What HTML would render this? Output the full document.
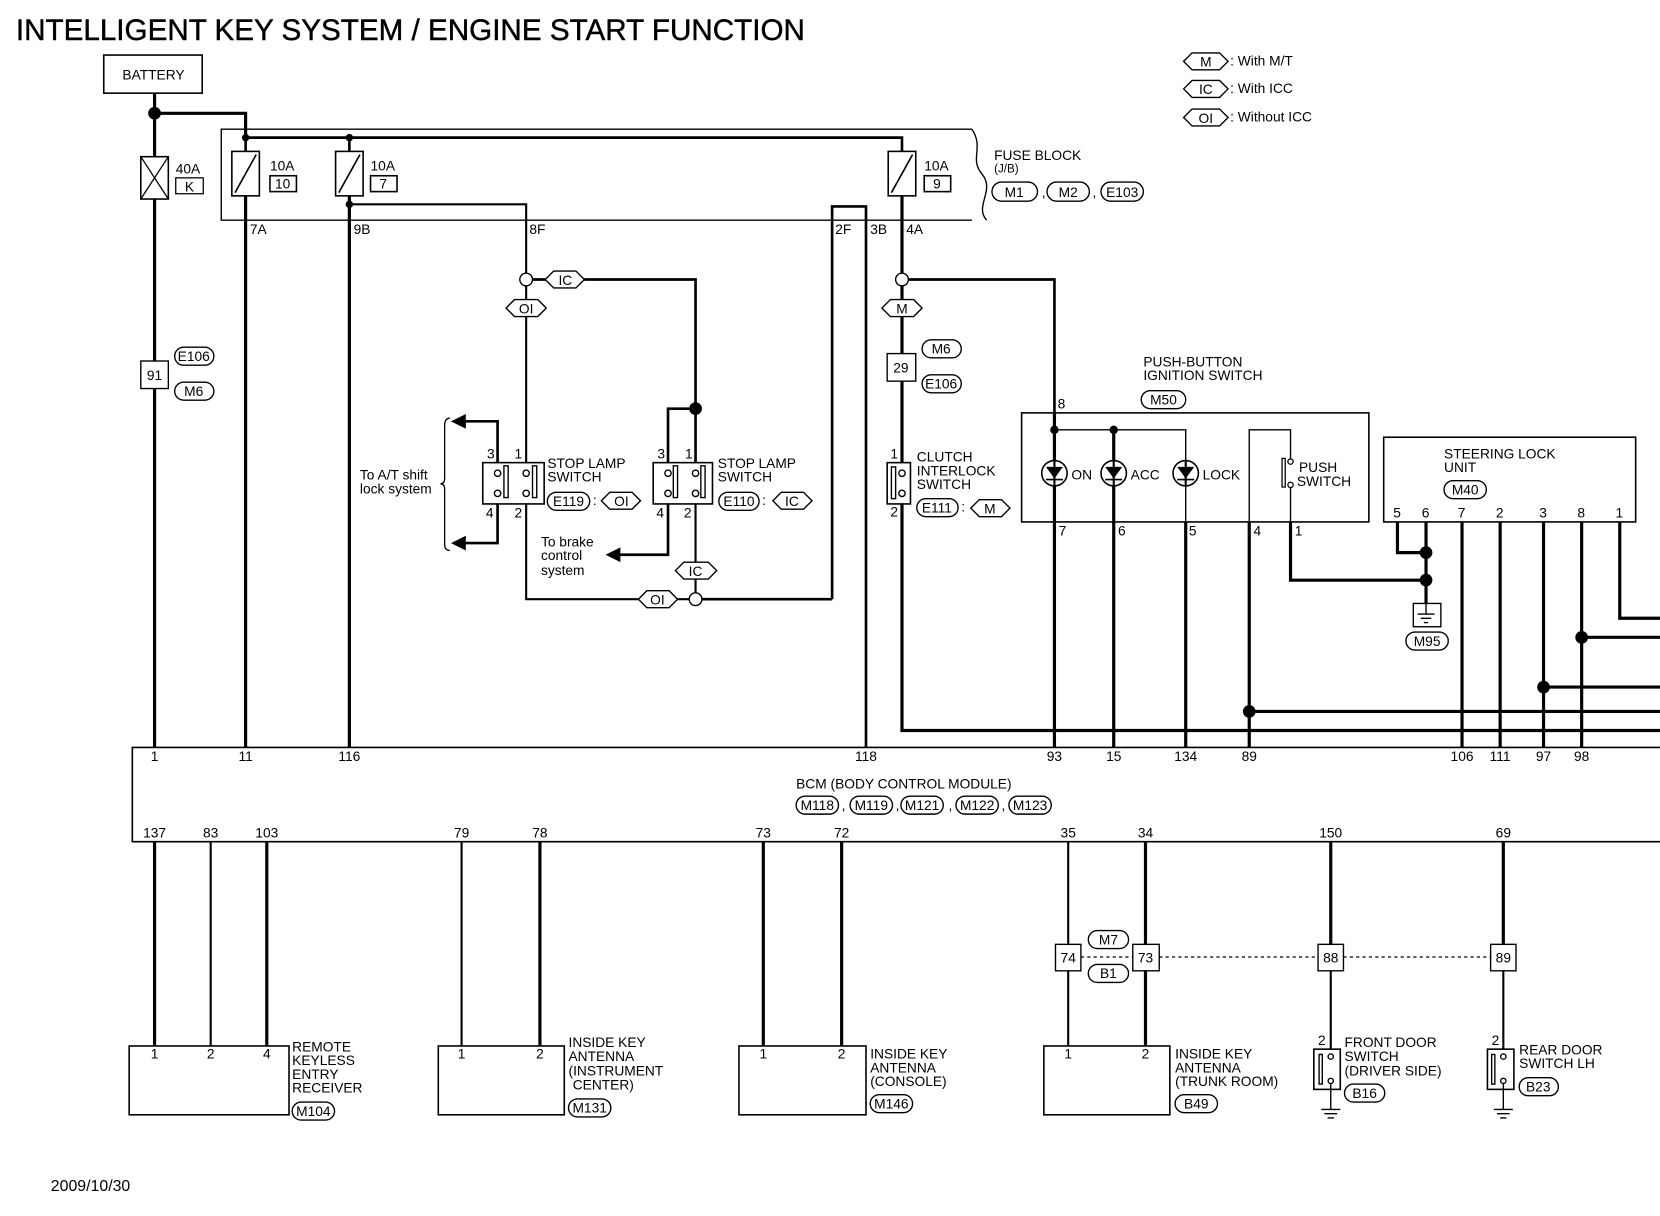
<!DOCTYPE html>
<html><head><meta charset="utf-8"><style>
html,body{margin:0;padding:0;background:#fff;}
svg{display:block;}
text{font-family:"Liberation Sans",sans-serif;fill:#000;}
.s{font-size:13px;}
.k{stroke:#000;fill:none;}
.w{stroke:#000;fill:#fff;}
</style></head><body>
<svg width="1660" height="1216" viewBox="0 0 1568 1148.6" preserveAspectRatio="none" xmlns="http://www.w3.org/2000/svg">
<rect x="0" y="0" width="1568" height="1149" fill="#fff"/>
<text x="15" y="38" style="font-size:28px;stroke:#000;stroke-width:0.4">INTELLIGENT KEY SYSTEM / ENGINE START FUNCTION</text>

<!-- legend -->
<g class="k" stroke-width="1.3">
<polygon points="1118,58 1126,50 1152,50 1160,58 1152,66 1126,66"/>
<polygon points="1118,84 1126,76 1152,76 1160,84 1152,92 1126,92"/>
<polygon points="1118,111 1126,103 1152,103 1160,111 1152,119 1126,119"/>
</g>
<text x="1139" y="63" class="s" text-anchor="middle">M</text>
<text x="1139" y="89" class="s" text-anchor="middle">IC</text>
<text x="1139" y="116" class="s" text-anchor="middle">OI</text>
<text x="1162" y="62" class="s">: With M/T</text>
<text x="1162" y="88" class="s">: With ICC</text>
<text x="1162" y="115" class="s">: Without ICC</text>

<!-- battery -->
<rect x="98" y="52" width="93" height="36" class="k" stroke-width="1.5"/>
<text x="145" y="75" class="s" text-anchor="middle">BATTERY</text>

<g class="k" stroke-width="3">
<path d="M146,88 V148 M146,188 V341 M146,367 V706"/>
<path d="M146,107 H232 V130"/>
<path d="M232,185 V706"/>
<path d="M330,185 V706"/>
</g>
<circle cx="146" cy="107" r="6"/>
<!-- 40A fuse -->
<rect x="133" y="148" width="26" height="40" class="k" stroke-width="1.5"/>
<path d="M133,148 L159,188 M159,148 L133,188" class="k" stroke-width="1.2"/>
<text x="166" y="164" class="s">40A</text>
<rect x="166" y="168" width="26" height="15" class="k" stroke-width="1.2"/>
<text x="179" y="181" class="s" text-anchor="middle">K</text>

<!-- fuse block -->
<path d="M918,122 H209 V208 H918" class="k" stroke-width="1.3"/>
<path d="M918,122 C930,140 915,150 928,165 C940,180 920,195 932,208" class="k" stroke-width="1.3"/>
<path d="M232,130 H852 V143" class="k" stroke-width="2.5"/>
<circle cx="232" cy="130" r="3.5"/><circle cx="330" cy="130" r="3.5"/>
<path d="M232,130 V143 M330,130 V143" class="k" stroke-width="2.5"/>
<g class="k" stroke-width="1.5">
<rect x="219" y="143" width="26" height="42"/><path d="M222,182 L242,146"/>
<rect x="317" y="143" width="26" height="42"/><path d="M320,182 L340,146"/>
<rect x="839" y="143" width="26" height="42"/><path d="M842,182 L862,146"/>
<rect x="255" y="166" width="25" height="15"/>
<rect x="350" y="166" width="25" height="15"/>
<rect x="873" y="166" width="25" height="15"/>
</g>
<text x="255" y="161" class="s">10A</text><text x="267" y="178" class="s" text-anchor="middle">10</text>
<text x="350" y="161" class="s">10A</text><text x="362" y="178" class="s" text-anchor="middle">7</text>
<text x="873" y="161" class="s">10A</text><text x="885" y="178" class="s" text-anchor="middle">9</text>
<text x="939" y="151" class="s">FUSE BLOCK</text>
<text x="939" y="163" style="font-size:11px">(J/B)</text>
<g class="k" stroke-width="1.3">
<rect x="937" y="172" width="43" height="18" rx="9"/>
<rect x="989" y="172" width="40" height="18" rx="9"/>
<rect x="1040" y="172" width="40" height="18" rx="9"/>
</g>
<text x="958" y="186" class="s" text-anchor="middle">M1</text><text x="984" y="186" class="s">,</text>
<text x="1009" y="186" class="s" text-anchor="middle">M2</text><text x="1032" y="186" class="s">,</text>
<text x="1060" y="186" class="s" text-anchor="middle">E103</text>
<text x="236" y="221" class="s">7A</text><text x="334" y="221" class="s">9B</text>
<text x="500" y="221" class="s">8F</text><text x="789" y="221" class="s">2F</text>
<text x="822" y="221" class="s">3B</text><text x="856" y="221" class="s">4A</text>

<!-- 9B branch -->
<circle cx="330" cy="193" r="3.5"/>
<path d="M330,193 H497 V258" class="k" stroke-width="2"/>
<path d="M786,566 V195 H818 V706" class="k" stroke-width="2.5"/>
<!-- IC/OI -->
<circle cx="497" cy="264" r="6" class="w" stroke-width="1.3"/>
<path d="M503,264 H515 M552,264 H657 V437" class="k" stroke-width="2.5"/>
<polygon points="515,264 523,256 544,256 552,264 544,272 523,272" class="k" stroke-width="1.3"/>
<text x="534" y="269" class="s" text-anchor="middle">IC</text>
<path d="M497,270 V283 M497,299 V437" class="k" stroke-width="2"/>
<polygon points="478,291 486,283 508,283 516,291 508,299 486,299" class="k" stroke-width="1.3"/>
<text x="497" y="296" class="s" text-anchor="middle">OI</text>
<circle cx="657" cy="386" r="6"/>
<path d="M657,386 H631 V437" class="k" stroke-width="2.5"/>
<!-- E119 switch -->
<rect x="456" y="437" width="58" height="39" class="k" stroke-width="1.5"/>
<g class="k" stroke-width="1.3">
<circle cx="470" cy="447" r="3"/><circle cx="470" cy="466" r="3"/>
<circle cx="497" cy="447" r="3"/><circle cx="497" cy="466" r="3"/>
<rect x="476" y="440" width="4" height="30"/><rect x="503" y="440" width="4" height="30"/>
</g>
<path d="M497,476 V566 H603 M640,566 H651" class="k" stroke-width="2"/>
<path d="M470,437 V398 H438 M470,476 V513 H438" class="k" stroke-width="2.5"/>
<polygon points="426,398 440,391 440,405"/><polygon points="426,513 440,506 440,520"/>
<path d="M425,395 Q420,395 420,402 V452 Q420,457 416,457 Q420,457 420,462 V514 Q420,520 425,520" class="k" stroke-width="1.2"/>
<text x="340" y="453" class="s">To A/T shift</text>
<text x="340" y="466" class="s">lock system</text>
<text x="460" y="433" class="s">3</text><text x="486" y="433" class="s">1</text>
<text x="459" y="489" class="s">4</text><text x="486" y="489" class="s">2</text>
<text x="517" y="442" class="s">STOP LAMP</text><text x="517" y="455" class="s">SWITCH</text>
<rect x="517" y="465" width="40" height="17" rx="8.5" class="k" stroke-width="1.3"/>
<text x="537" y="478" class="s" text-anchor="middle">E119</text><text x="560" y="477" class="s">:</text>
<polygon points="568,473 576,465 597,465 605,473 597,481 576,481" class="k" stroke-width="1.3"/>
<text x="587" y="478" class="s" text-anchor="middle">OI</text>
<polygon points="603,566 611,558 632,558 640,566 632,574 611,574" class="k" stroke-width="1.3"/>
<text x="621" y="571" class="s" text-anchor="middle">OI</text>
<circle cx="657" cy="566" r="6" class="w" stroke-width="1.3"/>
<path d="M663,566 H786" class="k" stroke-width="2.5"/>
<!-- E110 -->
<rect x="617" y="437" width="56" height="39" class="k" stroke-width="1.5"/>
<g class="k" stroke-width="1.3">
<circle cx="631" cy="447" r="3"/><circle cx="631" cy="466" r="3"/>
<circle cx="657" cy="447" r="3"/><circle cx="657" cy="466" r="3"/>
<rect x="636" y="440" width="4" height="30"/><rect x="662" y="440" width="4" height="30"/>
</g>
<path d="M631,476 V524 H584" class="k" stroke-width="2.5"/>
<polygon points="572,524 586,517 586,531"/>
<path d="M657,476 V531 M657,547 V560" class="k" stroke-width="2"/>
<polygon points="638,539 646,531 669,531 677,539 669,547 646,547" class="k" stroke-width="1.3"/>
<text x="657" y="544" class="s" text-anchor="middle">IC</text>
<text x="621" y="433" class="s">3</text><text x="647" y="433" class="s">1</text>
<text x="620" y="489" class="s">4</text><text x="646" y="489" class="s">2</text>
<text x="511" y="516" class="s">To brake</text><text x="511" y="529" class="s">control</text><text x="511" y="543" class="s">system</text>
<text x="678" y="442" class="s">STOP LAMP</text><text x="678" y="455" class="s">SWITCH</text>
<rect x="679" y="465" width="38" height="17" rx="8.5" class="k" stroke-width="1.3"/>
<text x="698" y="478" class="s" text-anchor="middle">E110</text><text x="720" y="477" class="s">:</text>
<polygon points="730,473 738,465 759,465 767,473 759,481 738,481" class="k" stroke-width="1.3"/>
<text x="748" y="478" class="s" text-anchor="middle">IC</text>

<!-- left connector 91 -->
<rect x="133" y="341" width="26" height="26" class="w" stroke-width="1.3"/>
<text x="146" y="359" class="s" text-anchor="middle">91</text>
<rect x="165" y="328" width="37" height="17" rx="8.5" class="k" stroke-width="1.3"/>
<text x="183" y="341" class="s" text-anchor="middle">E106</text>
<rect x="165" y="361" width="37" height="17" rx="8.5" class="k" stroke-width="1.3"/>
<text x="183" y="374" class="s" text-anchor="middle">M6</text>

<!-- 4A line -->
<path d="M852,185 V258 M852,270 V283 M852,299 V334 M852,360 V437 M852,476 V690 H1568" class="k" stroke-width="3"/>
<circle cx="852" cy="264" r="6" class="w" stroke-width="1.3"/>
<path d="M858,264 H996 V390" class="k" stroke-width="2.5"/>
<polygon points="833,291 841,283 863,283 871,291 863,299 841,299" class="k" stroke-width="1.3"/>
<text x="852" y="296" class="s" text-anchor="middle">M</text>
<rect x="838" y="334" width="27" height="26" class="k" stroke-width="1.3"/>
<text x="851" y="352" class="s" text-anchor="middle">29</text>
<rect x="871" y="321" width="37" height="17" rx="8.5" class="k" stroke-width="1.3"/>
<text x="889" y="334" class="s" text-anchor="middle">M6</text>
<rect x="871" y="354" width="37" height="17" rx="8.5" class="k" stroke-width="1.3"/>
<text x="889" y="367" class="s" text-anchor="middle">E106</text>
<!-- clutch -->
<rect x="838" y="437" width="22" height="39" class="k" stroke-width="1.5"/>
<g class="k" stroke-width="1.3"><circle cx="852" cy="447" r="3"/><circle cx="852" cy="466" r="3"/><rect x="842" y="441" width="4" height="30"/></g>
<text x="841" y="433" class="s">1</text><text x="841" y="488" class="s">2</text>
<text x="866" y="436" class="s">CLUTCH</text><text x="866" y="449" class="s">INTERLOCK</text><text x="866" y="462" class="s">SWITCH</text>
<rect x="866" y="471" width="39" height="17" rx="8.5" class="k" stroke-width="1.3"/>
<text x="885" y="484" class="s" text-anchor="middle">E111</text><text x="908" y="483" class="s">:</text>
<polygon points="917,480 925,472 946,472 954,480 946,488 925,488" class="k" stroke-width="1.3"/>
<text x="935" y="485" class="s" text-anchor="middle">M</text>

<!-- push-button ignition -->
<text x="1080" y="346" class="s">PUSH-BUTTON</text><text x="1080" y="359" class="s">IGNITION SWITCH</text>
<rect x="1078" y="369" width="42" height="17" rx="8.5" class="k" stroke-width="1.3"/>
<text x="1099" y="382" class="s" text-anchor="middle">M50</text>
<rect x="965" y="390" width="328" height="103" class="k" stroke-width="1.5"/>
<text x="999" y="386" class="s">8</text>
<path d="M996,390 V706 M1052,406 V706" class="k" stroke-width="3"/>
<path d="M996,406 H1120 V493" class="k" stroke-width="1.3"/>
<path d="M1120,493 V706" class="k" stroke-width="3"/>
<circle cx="996" cy="406" r="4"/><circle cx="1052" cy="406" r="4"/>
<g class="w" stroke-width="1.5">
<circle cx="996" cy="447" r="12"/><circle cx="1052" cy="447" r="12"/><circle cx="1120" cy="447" r="12"/>
</g>
<g>
<polygon points="988,441 1004,441 996,452"/><path d="M988,453 H1004" class="k" stroke-width="1.5"/>
<polygon points="1044,441 1060,441 1052,452"/><path d="M1044,453 H1060" class="k" stroke-width="1.5"/>
<polygon points="1112,441 1128,441 1120,452"/><path d="M1112,453 H1128" class="k" stroke-width="1.5"/>
</g>
<path d="M996,435 V459 M1052,435 V459 M1120,435 V459" class="k" stroke-width="2"/>
<text x="1012" y="453" class="s">ON</text><text x="1068" y="453" class="s">ACC</text><text x="1136" y="453" class="s">LOCK</text>
<path d="M1180,493 V406 H1219 V433 M1219,461 V493" class="k" stroke-width="1.3"/>
<circle cx="1219" cy="436" r="2.5" class="k" stroke-width="1.2"/><circle cx="1219" cy="458" r="2.5" class="k" stroke-width="1.2"/>
<rect x="1211" y="433" width="3" height="27" class="k" stroke-width="1.2"/>
<text x="1227" y="446" class="s">PUSH</text><text x="1225" y="459" class="s">SWITCH</text>
<text x="1000" y="506" class="s">7</text><text x="1056" y="506" class="s">6</text><text x="1123" y="506" class="s">5</text>
<text x="1184" y="506" class="s">4</text><text x="1223" y="506" class="s">1</text>
<path d="M1180,493 V706 M1219,493 V548 H1347" class="k" stroke-width="3"/>
<circle cx="1180" cy="672" r="6"/>
<path d="M1180,672 H1568" class="k" stroke-width="3"/>

<!-- steering lock -->
<rect x="1307" y="413" width="238" height="80" class="k" stroke-width="1.5"/>
<text x="1364" y="433" class="s">STEERING LOCK</text><text x="1364" y="446" class="s">UNIT</text>
<rect x="1364" y="454" width="40" height="17" rx="8.5" class="k" stroke-width="1.3"/>
<text x="1384" y="467" class="s" text-anchor="middle">M40</text>
<text x="1316" y="489" class="s">5</text><text x="1343" y="489" class="s">6</text><text x="1377" y="489" class="s">7</text>
<text x="1413" y="489" class="s">2</text><text x="1454" y="489" class="s">3</text><text x="1490" y="489" class="s">8</text><text x="1526" y="489" class="s">1</text>
<g class="k" stroke-width="3">
<path d="M1320,493 V522 H1347 M1347,493 V570"/>
<path d="M1381,493 V706 M1417,493 V706 M1458,493 V706 M1494,493 V706"/>
<path d="M1530,493 V584 H1568 M1494,602 H1568 M1458,649 H1568"/>
</g>
<circle cx="1347" cy="522" r="6"/><circle cx="1347" cy="548" r="6"/>
<circle cx="1494" cy="602" r="6"/><circle cx="1458" cy="649" r="6"/>
<rect x="1335" y="570" width="26" height="22" class="k" stroke-width="1.3"/>
<path d="M1347,570 V580 M1339,580 H1355 M1342,584 H1352 M1345,588 H1349" class="k" stroke-width="1.3"/>
<rect x="1328" y="597" width="40" height="17" rx="8.5" class="k" stroke-width="1.3"/>
<text x="1348" y="610" class="s" text-anchor="middle">M95</text>

<!-- BCM -->
<path d="M1568,706 H125 V795 H1568" class="k" stroke-width="1.5"/>
<g class="s">
<text x="146" y="719" text-anchor="middle">1</text><text x="232" y="719" text-anchor="middle">11</text>
<text x="330" y="719" text-anchor="middle">116</text><text x="818" y="719" text-anchor="middle">118</text>
<text x="996" y="719" text-anchor="middle">93</text><text x="1052" y="719" text-anchor="middle">15</text>
<text x="1120" y="719" text-anchor="middle">134</text><text x="1180" y="719" text-anchor="middle">89</text>
<text x="1381" y="719" text-anchor="middle">106</text><text x="1417" y="719" text-anchor="middle">111</text>
<text x="1458" y="719" text-anchor="middle">97</text><text x="1494" y="719" text-anchor="middle">98</text>
<text x="146" y="791" text-anchor="middle">137</text><text x="199" y="791" text-anchor="middle">83</text>
<text x="252" y="791" text-anchor="middle">103</text><text x="436" y="791" text-anchor="middle">79</text>
<text x="510" y="791" text-anchor="middle">78</text><text x="721" y="791" text-anchor="middle">73</text>
<text x="795" y="791" text-anchor="middle">72</text><text x="1009" y="791" text-anchor="middle">35</text>
<text x="1082" y="791" text-anchor="middle">34</text><text x="1257" y="791" text-anchor="middle">150</text>
<text x="1420" y="791" text-anchor="middle">69</text>
<text x="752" y="745">BCM (BODY CONTROL MODULE)</text>
</g>
<g class="k" stroke-width="1.3">
<rect x="752" y="752" width="40" height="17" rx="8.5"/><rect x="803" y="752" width="40" height="17" rx="8.5"/>
<rect x="851" y="752" width="40" height="17" rx="8.5"/><rect x="903" y="752" width="40" height="17" rx="8.5"/>
<rect x="953" y="752" width="40" height="17" rx="8.5"/>
</g>
<g class="s" text-anchor="middle">
<text x="772" y="765">M118</text><text x="823" y="765">M119</text><text x="871" y="765">M121</text>
<text x="923" y="765">M122</text><text x="973" y="765">M123</text>
</g>
<g class="s"><text x="795" y="765">,</text><text x="846" y="765">,</text><text x="896" y="765">,</text><text x="946" y="765">,</text></g>

<!-- lower wires -->
<g class="k" stroke-width="3">
<path d="M146,795 V988 M252,795 V988 M510,795 V988 M721,795 V988 M795,795 V988"/>
<path d="M1082,795 V892 M1082,917 V988 M1257,795 V892 M1420,795 V892"/>
</g>
<g class="k" stroke-width="2">
<path d="M199,795 V988 M436,795 V988 M1009,795 V892 M1009,917 V988 M1257,917 V991 M1420,917 V991"/>
</g>
<path d="M1021,904 H1070 M1095,904 H1245 M1269,904 H1408" class="k" stroke-width="1.2" stroke-dasharray="3,3"/>
<g class="k" stroke-width="1.3">
<rect x="997" y="892" width="24" height="25"/><rect x="1070" y="892" width="25" height="25"/>
<rect x="1245" y="892" width="24" height="25"/><rect x="1408" y="892" width="24" height="25"/>
<rect x="1028" y="879" width="38" height="17" rx="8.5"/><rect x="1028" y="911" width="38" height="17" rx="8.5"/>
</g>
<g class="s" text-anchor="middle">
<text x="1009" y="909">74</text><text x="1082" y="909">73</text><text x="1257" y="909">88</text><text x="1420" y="909">89</text>
<text x="1047" y="892">M7</text><text x="1047" y="924">B1</text>
</g>

<!-- bottom components -->
<g class="k" stroke-width="1.5">
<rect x="122" y="988" width="151" height="65"/>
<rect x="414" y="988" width="119" height="65"/>
<rect x="698" y="988" width="120" height="65"/>
<rect x="986" y="988" width="119" height="65"/>
</g>
<g class="s" text-anchor="middle">
<text x="146" y="1000">1</text><text x="199" y="1000">2</text><text x="252" y="1000">4</text>
<text x="436" y="1000">1</text><text x="510" y="1000">2</text>
<text x="721" y="1000">1</text><text x="795" y="1000">2</text>
<text x="1009" y="1000">1</text><text x="1082" y="1000">2</text>
</g>
<g class="s">
<text x="276" y="993">REMOTE</text><text x="276" y="1006">KEYLESS</text><text x="276" y="1019">ENTRY</text><text x="276" y="1032">RECEIVER</text>
<text x="537" y="989">INSIDE KEY</text><text x="537" y="1002">ANTENNA</text><text x="537" y="1016">(INSTRUMENT</text><text x="541" y="1029">CENTER)</text>
<text x="822" y="1000">INSIDE KEY</text><text x="822" y="1013">ANTENNA</text><text x="822" y="1026">(CONSOLE)</text>
<text x="1110" y="1000">INSIDE KEY</text><text x="1110" y="1013">ANTENNA</text><text x="1110" y="1026">(TRUNK ROOM)</text>
<text x="1270" y="989">FRONT DOOR</text><text x="1270" y="1002">SWITCH</text><text x="1270" y="1016">(DRIVER SIDE)</text>
<text x="1435" y="996">REAR DOOR</text><text x="1435" y="1009">SWITCH LH</text>
</g>
<g class="k" stroke-width="1.3">
<rect x="276" y="1041" width="40" height="17" rx="8.5"/><rect x="537" y="1038" width="40" height="17" rx="8.5"/>
<rect x="822" y="1034" width="40" height="17" rx="8.5"/><rect x="1110" y="1034" width="40" height="17" rx="8.5"/>
<rect x="1270" y="1024" width="38" height="17" rx="8.5"/><rect x="1435" y="1018" width="37" height="17" rx="8.5"/>
</g>
<g class="s" text-anchor="middle">
<text x="296" y="1054">M104</text><text x="557" y="1051">M131</text><text x="842" y="1047">M146</text>
<text x="1130" y="1047">B49</text><text x="1289" y="1037">B16</text><text x="1453" y="1031">B23</text>
</g>
<!-- door switches -->
<g class="k" stroke-width="1.5">
<rect x="1241" y="991" width="25" height="38"/><rect x="1405" y="991" width="25" height="38"/>
</g>
<g class="k" stroke-width="1.3">
<circle cx="1257" cy="998" r="2.5"/><circle cx="1257" cy="1021" r="2.5"/><rect x="1246" y="996" width="3" height="28"/>
<circle cx="1420" cy="998" r="2.5"/><circle cx="1420" cy="1021" r="2.5"/><rect x="1409" y="996" width="3" height="28"/>
<path d="M1257,1024 V1048 M1248,1048 H1266 M1251,1052 H1263 M1254,1056 H1260"/>
<path d="M1420,1024 V1048 M1411,1048 H1429 M1414,1052 H1426 M1417,1056 H1423"/>
</g>
<text x="1245" y="987" class="s">2</text><text x="1409" y="987" class="s">2</text>

<text x="48" y="1125" style="font-size:15px">2009/10/30</text>
</svg>
</body></html>
